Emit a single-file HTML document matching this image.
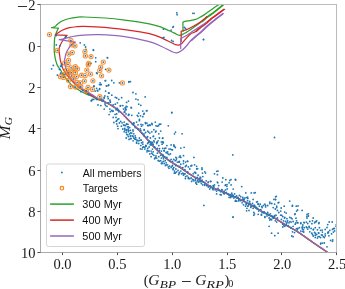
<!DOCTYPE html><html><head><meta charset="utf-8"><style>html,body{margin:0;padding:0;background:#fff;overflow:hidden}svg{display:block}</style></head><body><svg width="345" height="289" viewBox="0 0 345 289" style="will-change:transform"><defs><clipPath id="ax"><rect x="40.5" y="4.5" width="296.4" height="248"/></clipPath></defs><rect width="345" height="289" fill="#fff"/><g clip-path="url(#ax)"><g fill="none" stroke-width="1.25" stroke-linejoin="round" stroke-linecap="round"><path d="M330.00,254.75 C329.67,254.47 328.67,253.58 328.00,253.04 C327.33,252.50 326.67,252.00 326.00,251.51 C325.33,251.02 324.67,250.56 324.00,250.10 C323.33,249.64 322.67,249.20 322.00,248.76 C321.33,248.31 320.67,247.88 320.00,247.43 C319.33,246.99 318.67,246.55 318.00,246.10 C317.33,245.65 316.67,245.20 316.00,244.74 C315.33,244.29 314.67,243.83 314.00,243.36 C313.33,242.90 312.67,242.44 312.00,241.97 C311.33,241.50 310.67,241.03 310.00,240.56 C309.33,240.09 308.67,239.62 308.00,239.14 C307.33,238.67 306.67,238.20 306.00,237.73 C305.33,237.25 304.67,236.78 304.00,236.31 C303.33,235.84 302.67,235.38 302.00,234.91 C301.33,234.45 300.67,233.99 300.00,233.54 C299.33,233.09 298.67,232.64 298.00,232.21 C297.33,231.78 296.67,231.36 296.00,230.95 C295.33,230.54 294.67,230.15 294.00,229.77 C293.33,229.38 292.67,229.01 292.00,228.63 C291.33,228.26 290.67,227.89 290.00,227.52 C289.33,227.15 288.67,226.77 288.00,226.39 C287.33,226.01 286.67,225.62 286.00,225.23 C285.33,224.84 284.67,224.44 284.00,224.04 C283.33,223.64 282.67,223.23 282.00,222.82 C281.33,222.41 280.67,222.00 280.00,221.58 C279.33,221.17 278.67,220.75 278.00,220.34 C277.33,219.92 276.67,219.51 276.00,219.11 C275.33,218.71 274.67,218.31 274.00,217.92 C273.33,217.54 272.67,217.16 272.00,216.79 C271.33,216.43 270.67,216.07 270.00,215.73 C269.33,215.38 268.67,215.04 268.00,214.71 C267.33,214.37 266.67,214.05 266.00,213.71 C265.33,213.38 264.67,213.05 264.00,212.71 C263.33,212.37 262.67,212.02 262.00,211.66 C261.33,211.31 260.67,210.94 260.00,210.57 C259.33,210.19 258.67,209.80 258.00,209.41 C257.33,209.01 256.67,208.61 256.00,208.20 C255.33,207.80 254.67,207.39 254.00,206.99 C253.33,206.59 252.67,206.19 252.00,205.80 C251.33,205.41 250.67,205.03 250.00,204.66 C249.33,204.29 248.67,203.93 248.00,203.58 C247.33,203.22 246.67,202.87 246.00,202.53 C245.33,202.18 244.67,201.83 244.00,201.49 C243.33,201.14 242.67,200.80 242.00,200.46 C241.33,200.12 240.67,199.79 240.00,199.47 C239.33,199.15 238.67,198.84 238.00,198.54 C237.33,198.23 236.67,197.95 236.00,197.66 C235.33,197.37 234.67,197.09 234.00,196.80 C233.33,196.52 232.67,196.23 232.00,195.94 C231.33,195.65 230.67,195.36 230.00,195.06 C229.33,194.76 228.67,194.46 228.00,194.16 C227.33,193.85 226.67,193.55 226.00,193.26 C225.33,192.96 224.67,192.67 224.00,192.39 C223.33,192.10 222.67,191.82 222.00,191.55 C221.33,191.28 220.67,191.01 220.00,190.75 C219.33,190.49 218.67,190.24 218.00,189.99 C217.33,189.74 216.67,189.50 216.00,189.25 C215.33,189.00 214.67,188.76 214.00,188.49 C213.33,188.22 212.67,187.94 212.00,187.62 C211.33,187.30 210.67,186.96 210.00,186.58 C209.33,186.19 208.67,185.76 208.00,185.32 C207.33,184.87 206.67,184.38 206.00,183.92 C205.33,183.47 204.67,183.00 204.00,182.58 C203.33,182.15 202.67,181.75 202.00,181.36 C201.33,180.97 200.67,180.60 200.00,180.23 C199.33,179.87 198.67,179.51 198.00,179.15 C197.33,178.78 196.67,178.42 196.00,178.04 C195.33,177.66 194.67,177.28 194.00,176.89 C193.33,176.50 192.67,176.10 192.00,175.69 C191.33,175.29 190.67,174.87 190.00,174.45 C189.33,174.02 188.67,173.59 188.00,173.14 C187.33,172.69 186.67,172.22 186.00,171.75 C185.33,171.28 184.67,170.79 184.00,170.32 C183.33,169.85 182.67,169.38 182.00,168.93 C181.33,168.47 180.67,168.02 180.00,167.59 C179.33,167.16 178.67,166.74 178.00,166.34 C177.33,165.93 176.67,165.54 176.00,165.14 C175.33,164.75 174.67,164.36 174.00,163.97 C173.33,163.57 172.67,163.17 172.00,162.75 C171.33,162.33 170.67,161.89 170.00,161.44 C169.33,160.98 168.67,160.51 168.00,160.01 C167.33,159.51 166.67,158.99 166.00,158.45 C165.33,157.91 164.67,157.34 164.00,156.76 C163.33,156.17 162.67,155.56 162.00,154.94 C161.33,154.32 160.67,153.68 160.00,153.04 C159.33,152.40 158.67,151.74 158.00,151.08 C157.33,150.42 156.67,149.75 156.00,149.08 C155.33,148.40 154.67,147.73 154.00,147.03 C153.33,146.34 152.67,145.63 152.00,144.91 C151.33,144.19 150.67,143.45 150.00,142.70 C149.33,141.95 148.67,141.18 148.00,140.41 C147.33,139.64 146.67,138.85 146.00,138.08 C145.33,137.31 144.67,136.53 144.00,135.77 C143.33,135.01 142.67,134.26 142.00,133.54 C141.33,132.81 140.67,132.10 140.00,131.41 C139.33,130.71 138.67,130.04 138.00,129.37 C137.33,128.71 136.67,128.07 136.00,127.43 C135.33,126.79 134.67,126.17 134.00,125.54 C133.33,124.91 132.67,124.30 132.00,123.66 C131.33,123.03 130.67,122.39 130.00,121.74 C129.33,121.09 128.67,120.42 128.00,119.75 C127.33,119.08 126.67,118.39 126.00,117.70 C125.33,117.02 124.67,116.32 124.00,115.64 C123.33,114.96 122.67,114.27 122.00,113.63 C121.33,112.98 120.67,112.35 120.00,111.76 C119.33,111.16 118.67,110.60 118.00,110.06 C117.33,109.53 116.67,109.03 116.00,108.55 C115.33,108.07 114.67,107.62 114.00,107.19 C113.33,106.75 112.67,106.35 112.00,105.95 C111.33,105.55 110.67,105.16 110.00,104.78 C109.33,104.41 108.67,104.04 108.00,103.68 C107.33,103.32 106.67,102.98 106.00,102.64 C105.33,102.31 104.67,101.99 104.00,101.69 C103.33,101.39 102.67,101.10 102.00,100.83 C101.33,100.55 100.67,100.23 100.00,100.04 C99.33,99.85 99.00,100.12 98.00,99.70 C97.00,99.28 95.33,98.22 94.00,97.50 C92.67,96.78 91.17,95.92 90.00,95.40 C88.83,94.88 88.53,95.08 87.00,94.40 C85.47,93.72 83.05,92.60 80.80,91.30 C78.55,90.00 75.58,88.25 73.50,86.60 C71.42,84.95 69.85,83.13 68.30,81.40 C66.75,79.67 65.50,78.10 64.20,76.20 C62.90,74.30 61.62,71.77 60.50,70.00 C59.38,68.23 58.30,67.20 57.50,65.60 C56.70,64.00 56.17,62.13 55.70,60.40 C55.23,58.67 54.95,56.93 54.70,55.20 C54.45,53.47 54.27,51.87 54.20,50.00 C54.13,48.13 54.20,46.08 54.30,44.00 C54.40,41.92 54.38,39.58 54.80,37.50 C55.22,35.42 56.20,33.05 56.80,31.50 C57.40,29.95 58.13,28.75 58.40,28.20 C57.25,28.12 52.65,27.78 51.50,27.70 C52.07,27.55 54.10,27.18 54.90,26.80 C55.70,26.42 55.68,26.00 56.30,25.40 C56.92,24.80 57.62,23.93 58.60,23.20 C59.58,22.47 60.38,21.78 62.20,21.00 C64.02,20.22 67.08,19.12 69.50,18.50 C71.92,17.88 74.28,17.55 76.70,17.30 C79.12,17.05 79.28,16.88 84.00,17.00 C88.72,17.12 98.23,17.48 105.00,18.00 C111.77,18.52 117.22,19.13 124.60,20.10 C131.98,21.07 143.13,22.60 149.30,23.80 C155.47,25.00 157.50,25.78 161.60,27.30 C165.70,28.82 170.95,31.57 173.90,32.90 C176.85,34.23 177.78,35.08 179.30,35.30 C180.82,35.52 181.88,34.65 183.00,34.20 C184.12,33.75 184.83,33.30 186.00,32.60 C187.17,31.90 188.33,31.13 190.00,30.00 C191.67,28.87 194.08,27.18 196.00,25.80 C197.92,24.42 199.62,23.20 201.50,21.70 C203.38,20.20 205.22,18.42 207.30,16.80 C209.38,15.18 211.47,13.97 214.00,12.00 C216.53,10.03 220.75,6.50 222.50,5.00 C224.25,3.50 224.17,3.33 224.50,3.00" stroke="#2ca02c"/><path d="M202.30,21.70 C203.27,20.88 206.02,18.42 208.10,16.80 C210.18,15.18 212.27,13.97 214.80,12.00 C217.33,10.03 221.55,6.50 223.30,5.00 C225.05,3.50 224.97,3.33 225.30,3.00" stroke="#2ca02c"/><path d="M183.00,31.50 C182.98,29.92 182.92,23.58 182.90,22.00 C183.42,21.87 184.82,21.43 186.00,21.20 C187.18,20.97 188.38,20.92 190.00,20.60 C191.62,20.28 194.20,19.77 195.70,19.30 C197.20,18.83 197.87,18.37 199.00,17.80 C200.13,17.23 201.12,16.78 202.50,15.90 C203.88,15.02 205.72,13.62 207.30,12.50 C208.88,11.38 210.18,10.45 212.00,9.20 C213.82,7.95 216.78,5.95 218.20,5.00 C219.62,4.05 220.12,3.75 220.50,3.50" stroke="#2ca02c"/><path d="M330.00,254.55 C329.67,254.27 328.67,253.38 328.00,252.84 C327.33,252.30 326.67,251.80 326.00,251.31 C325.33,250.82 324.67,250.36 324.00,249.90 C323.33,249.44 322.67,249.00 322.00,248.56 C321.33,248.11 320.67,247.68 320.00,247.23 C319.33,246.79 318.67,246.35 318.00,245.90 C317.33,245.45 316.67,245.00 316.00,244.54 C315.33,244.09 314.67,243.63 314.00,243.16 C313.33,242.70 312.67,242.24 312.00,241.77 C311.33,241.30 310.67,240.83 310.00,240.36 C309.33,239.89 308.67,239.42 308.00,238.94 C307.33,238.47 306.67,238.00 306.00,237.53 C305.33,237.05 304.67,236.58 304.00,236.11 C303.33,235.64 302.67,235.18 302.00,234.71 C301.33,234.25 300.67,233.79 300.00,233.34 C299.33,232.89 298.67,232.44 298.00,232.01 C297.33,231.58 296.67,231.16 296.00,230.75 C295.33,230.34 294.67,229.95 294.00,229.57 C293.33,229.18 292.67,228.81 292.00,228.43 C291.33,228.06 290.67,227.69 290.00,227.32 C289.33,226.95 288.67,226.57 288.00,226.19 C287.33,225.81 286.67,225.42 286.00,225.03 C285.33,224.64 284.67,224.24 284.00,223.84 C283.33,223.44 282.67,223.03 282.00,222.62 C281.33,222.21 280.67,221.80 280.00,221.38 C279.33,220.97 278.67,220.55 278.00,220.14 C277.33,219.72 276.67,219.31 276.00,218.91 C275.33,218.51 274.67,218.11 274.00,217.72 C273.33,217.34 272.67,216.96 272.00,216.59 C271.33,216.23 270.67,215.87 270.00,215.53 C269.33,215.18 268.67,214.84 268.00,214.51 C267.33,214.17 266.67,213.85 266.00,213.51 C265.33,213.18 264.67,212.85 264.00,212.51 C263.33,212.17 262.67,211.82 262.00,211.46 C261.33,211.11 260.67,210.74 260.00,210.37 C259.33,209.99 258.67,209.60 258.00,209.21 C257.33,208.81 256.67,208.41 256.00,208.00 C255.33,207.60 254.67,207.19 254.00,206.79 C253.33,206.39 252.67,205.99 252.00,205.60 C251.33,205.21 250.67,204.83 250.00,204.46 C249.33,204.09 248.67,203.73 248.00,203.38 C247.33,203.02 246.67,202.67 246.00,202.33 C245.33,201.98 244.67,201.63 244.00,201.29 C243.33,200.94 242.67,200.60 242.00,200.26 C241.33,199.92 240.67,199.59 240.00,199.27 C239.33,198.95 238.67,198.64 238.00,198.34 C237.33,198.03 236.67,197.75 236.00,197.46 C235.33,197.17 234.67,196.89 234.00,196.60 C233.33,196.32 232.67,196.03 232.00,195.74 C231.33,195.45 230.67,195.16 230.00,194.86 C229.33,194.56 228.67,194.26 228.00,193.96 C227.33,193.65 226.67,193.35 226.00,193.06 C225.33,192.76 224.67,192.47 224.00,192.19 C223.33,191.90 222.67,191.62 222.00,191.35 C221.33,191.08 220.67,190.81 220.00,190.55 C219.33,190.29 218.67,190.04 218.00,189.79 C217.33,189.54 216.67,189.30 216.00,189.05 C215.33,188.80 214.67,188.56 214.00,188.29 C213.33,188.02 212.67,187.74 212.00,187.42 C211.33,187.10 210.67,186.76 210.00,186.38 C209.33,185.99 208.67,185.56 208.00,185.12 C207.33,184.67 206.67,184.18 206.00,183.72 C205.33,183.27 204.67,182.80 204.00,182.38 C203.33,181.95 202.67,181.55 202.00,181.16 C201.33,180.77 200.67,180.40 200.00,180.03 C199.33,179.67 198.67,179.31 198.00,178.95 C197.33,178.58 196.67,178.22 196.00,177.84 C195.33,177.46 194.67,177.08 194.00,176.69 C193.33,176.30 192.67,175.90 192.00,175.49 C191.33,175.09 190.67,174.67 190.00,174.25 C189.33,173.82 188.67,173.39 188.00,172.94 C187.33,172.49 186.67,172.02 186.00,171.55 C185.33,171.08 184.67,170.59 184.00,170.12 C183.33,169.65 182.67,169.18 182.00,168.73 C181.33,168.27 180.67,167.82 180.00,167.39 C179.33,166.96 178.67,166.54 178.00,166.14 C177.33,165.73 176.67,165.34 176.00,164.94 C175.33,164.55 174.67,164.16 174.00,163.77 C173.33,163.37 172.67,162.97 172.00,162.55 C171.33,162.13 170.67,161.69 170.00,161.24 C169.33,160.78 168.67,160.31 168.00,159.81 C167.33,159.31 166.67,158.79 166.00,158.25 C165.33,157.71 164.67,157.14 164.00,156.56 C163.33,155.97 162.67,155.36 162.00,154.74 C161.33,154.12 160.67,153.48 160.00,152.84 C159.33,152.20 158.67,151.54 158.00,150.88 C157.33,150.22 156.67,149.55 156.00,148.88 C155.33,148.20 154.67,147.53 154.00,146.83 C153.33,146.14 152.67,145.43 152.00,144.71 C151.33,143.99 150.67,143.25 150.00,142.50 C149.33,141.75 148.67,140.98 148.00,140.21 C147.33,139.44 146.67,138.65 146.00,137.88 C145.33,137.11 144.67,136.33 144.00,135.57 C143.33,134.81 142.67,134.06 142.00,133.34 C141.33,132.61 140.67,131.90 140.00,131.21 C139.33,130.51 138.67,129.84 138.00,129.17 C137.33,128.51 136.67,127.87 136.00,127.23 C135.33,126.59 134.67,125.97 134.00,125.34 C133.33,124.71 132.67,124.10 132.00,123.46 C131.33,122.83 130.67,122.19 130.00,121.54 C129.33,120.89 128.67,120.22 128.00,119.55 C127.33,118.88 126.67,118.19 126.00,117.50 C125.33,116.82 124.67,116.12 124.00,115.44 C123.33,114.76 122.67,114.07 122.00,113.43 C121.33,112.78 120.67,112.15 120.00,111.56 C119.33,110.96 118.67,110.40 118.00,109.86 C117.33,109.33 116.67,108.83 116.00,108.35 C115.33,107.87 114.67,107.42 114.00,106.99 C113.33,106.55 112.67,106.15 112.00,105.75 C111.33,105.35 110.67,104.96 110.00,104.58 C109.33,104.21 108.67,103.84 108.00,103.48 C107.33,103.12 106.67,102.78 106.00,102.44 C105.33,102.11 104.67,101.79 104.00,101.49 C103.33,101.19 102.67,100.90 102.00,100.63 C101.33,100.35 100.67,100.08 100.00,99.84 C99.33,99.60 99.17,99.81 98.00,99.20 C96.83,98.59 94.67,97.17 93.00,96.20 C91.33,95.23 89.70,94.40 88.00,93.40 C86.30,92.40 84.70,91.50 82.80,90.20 C80.90,88.90 78.50,87.23 76.60,85.60 C74.70,83.97 72.95,82.13 71.40,80.40 C69.85,78.67 68.60,76.93 67.30,75.20 C66.00,73.47 64.50,71.60 63.60,70.00 C62.70,68.40 62.43,67.20 61.90,65.60 C61.37,64.00 60.78,62.13 60.40,60.40 C60.02,58.67 59.82,56.93 59.60,55.20 C59.38,53.47 59.12,51.37 59.10,50.00 C59.08,48.63 59.28,47.88 59.50,47.00 C59.72,46.12 59.73,45.95 60.40,44.70 C61.07,43.45 62.38,41.05 63.50,39.50 C64.62,37.95 66.50,36.08 67.10,35.40 C65.12,35.32 57.18,34.98 55.20,34.90 C55.77,34.50 57.43,33.27 58.60,32.50 C59.77,31.73 60.38,31.10 62.20,30.30 C64.02,29.50 67.08,28.30 69.50,27.70 C71.92,27.10 74.28,26.92 76.70,26.70 C79.12,26.48 79.28,26.28 84.00,26.40 C88.72,26.52 98.23,26.85 105.00,27.40 C111.77,27.95 117.22,28.65 124.60,29.70 C131.98,30.75 143.13,32.33 149.30,33.70 C155.47,35.07 157.50,36.18 161.60,37.90 C165.70,39.62 171.08,42.78 173.90,44.00 C176.72,45.22 177.15,45.33 178.50,45.20 C179.85,45.07 180.75,44.30 182.00,43.20 C183.25,42.10 184.67,40.07 186.00,38.60 C187.33,37.13 188.38,35.60 190.00,34.40 C191.62,33.20 194.03,32.53 195.70,31.40 C197.37,30.27 198.38,28.90 200.00,27.60 C201.62,26.30 203.73,24.97 205.40,23.60 C207.07,22.23 208.57,20.60 210.00,19.40 C211.43,18.20 211.70,18.08 214.00,16.40 C216.30,14.72 222.17,10.48 223.80,9.30" stroke="#d62728"/><path d="M196.50,31.40 C197.22,30.77 199.18,28.90 200.80,27.60 C202.42,26.30 204.53,24.97 206.20,23.60 C207.87,22.23 209.37,20.60 210.80,19.40 C212.23,18.20 212.50,18.08 214.80,16.40 C217.10,14.72 222.97,10.48 224.60,9.30" stroke="#d62728"/><path d="M181.20,41.60 C181.20,39.87 181.20,32.93 181.20,31.20 C182.00,30.98 183.90,30.77 186.00,29.90 C188.10,29.03 191.22,27.45 193.80,26.00 C196.38,24.55 199.30,22.77 201.50,21.20 C203.70,19.63 206.08,17.37 207.00,16.60" stroke="#d62728"/><path d="M330.00,254.35 C329.67,254.07 328.67,253.18 328.00,252.64 C327.33,252.10 326.67,251.60 326.00,251.11 C325.33,250.62 324.67,250.16 324.00,249.70 C323.33,249.24 322.67,248.80 322.00,248.36 C321.33,247.91 320.67,247.48 320.00,247.03 C319.33,246.59 318.67,246.15 318.00,245.70 C317.33,245.25 316.67,244.80 316.00,244.34 C315.33,243.89 314.67,243.43 314.00,242.96 C313.33,242.50 312.67,242.04 312.00,241.57 C311.33,241.10 310.67,240.63 310.00,240.16 C309.33,239.69 308.67,239.22 308.00,238.74 C307.33,238.27 306.67,237.80 306.00,237.33 C305.33,236.85 304.67,236.38 304.00,235.91 C303.33,235.44 302.67,234.98 302.00,234.51 C301.33,234.05 300.67,233.59 300.00,233.14 C299.33,232.69 298.67,232.24 298.00,231.81 C297.33,231.38 296.67,230.96 296.00,230.55 C295.33,230.14 294.67,229.75 294.00,229.37 C293.33,228.98 292.67,228.61 292.00,228.23 C291.33,227.86 290.67,227.49 290.00,227.12 C289.33,226.75 288.67,226.37 288.00,225.99 C287.33,225.61 286.67,225.22 286.00,224.83 C285.33,224.44 284.67,224.04 284.00,223.64 C283.33,223.24 282.67,222.83 282.00,222.42 C281.33,222.01 280.67,221.60 280.00,221.18 C279.33,220.77 278.67,220.35 278.00,219.94 C277.33,219.52 276.67,219.11 276.00,218.71 C275.33,218.31 274.67,217.91 274.00,217.52 C273.33,217.14 272.67,216.76 272.00,216.39 C271.33,216.03 270.67,215.67 270.00,215.33 C269.33,214.98 268.67,214.64 268.00,214.31 C267.33,213.97 266.67,213.65 266.00,213.31 C265.33,212.98 264.67,212.65 264.00,212.31 C263.33,211.97 262.67,211.62 262.00,211.26 C261.33,210.91 260.67,210.54 260.00,210.17 C259.33,209.79 258.67,209.40 258.00,209.01 C257.33,208.61 256.67,208.21 256.00,207.80 C255.33,207.40 254.67,206.99 254.00,206.59 C253.33,206.19 252.67,205.79 252.00,205.40 C251.33,205.01 250.67,204.63 250.00,204.26 C249.33,203.89 248.67,203.53 248.00,203.18 C247.33,202.82 246.67,202.47 246.00,202.13 C245.33,201.78 244.67,201.43 244.00,201.09 C243.33,200.74 242.67,200.40 242.00,200.06 C241.33,199.72 240.67,199.39 240.00,199.07 C239.33,198.75 238.67,198.44 238.00,198.14 C237.33,197.83 236.67,197.55 236.00,197.26 C235.33,196.97 234.67,196.69 234.00,196.40 C233.33,196.12 232.67,195.83 232.00,195.54 C231.33,195.25 230.67,194.96 230.00,194.66 C229.33,194.36 228.67,194.06 228.00,193.76 C227.33,193.45 226.67,193.15 226.00,192.86 C225.33,192.56 224.67,192.27 224.00,191.99 C223.33,191.70 222.67,191.42 222.00,191.15 C221.33,190.88 220.67,190.61 220.00,190.35 C219.33,190.09 218.67,189.84 218.00,189.59 C217.33,189.34 216.67,189.10 216.00,188.85 C215.33,188.60 214.67,188.36 214.00,188.09 C213.33,187.82 212.67,187.54 212.00,187.22 C211.33,186.90 210.67,186.56 210.00,186.18 C209.33,185.79 208.67,185.36 208.00,184.92 C207.33,184.47 206.67,183.98 206.00,183.52 C205.33,183.07 204.67,182.60 204.00,182.18 C203.33,181.75 202.67,181.35 202.00,180.96 C201.33,180.57 200.67,180.20 200.00,179.83 C199.33,179.47 198.67,179.11 198.00,178.75 C197.33,178.38 196.67,178.02 196.00,177.64 C195.33,177.26 194.67,176.88 194.00,176.49 C193.33,176.10 192.67,175.70 192.00,175.29 C191.33,174.89 190.67,174.47 190.00,174.05 C189.33,173.62 188.67,173.19 188.00,172.74 C187.33,172.29 186.67,171.82 186.00,171.35 C185.33,170.88 184.67,170.39 184.00,169.92 C183.33,169.45 182.67,168.98 182.00,168.53 C181.33,168.07 180.67,167.62 180.00,167.19 C179.33,166.76 178.67,166.34 178.00,165.94 C177.33,165.53 176.67,165.14 176.00,164.74 C175.33,164.35 174.67,163.96 174.00,163.57 C173.33,163.17 172.67,162.77 172.00,162.35 C171.33,161.93 170.67,161.49 170.00,161.04 C169.33,160.58 168.67,160.11 168.00,159.61 C167.33,159.11 166.67,158.59 166.00,158.05 C165.33,157.51 164.67,156.94 164.00,156.36 C163.33,155.77 162.67,155.16 162.00,154.54 C161.33,153.92 160.67,153.28 160.00,152.64 C159.33,152.00 158.67,151.34 158.00,150.68 C157.33,150.02 156.67,149.35 156.00,148.68 C155.33,148.00 154.67,147.33 154.00,146.63 C153.33,145.94 152.67,145.23 152.00,144.51 C151.33,143.79 150.67,143.05 150.00,142.30 C149.33,141.55 148.67,140.78 148.00,140.01 C147.33,139.24 146.67,138.45 146.00,137.68 C145.33,136.91 144.67,136.13 144.00,135.37 C143.33,134.61 142.67,133.86 142.00,133.14 C141.33,132.41 140.67,131.70 140.00,131.01 C139.33,130.31 138.67,129.64 138.00,128.97 C137.33,128.31 136.67,127.67 136.00,127.03 C135.33,126.39 134.67,125.77 134.00,125.14 C133.33,124.51 132.67,123.90 132.00,123.26 C131.33,122.63 130.67,121.99 130.00,121.34 C129.33,120.69 128.67,120.02 128.00,119.35 C127.33,118.68 126.67,117.99 126.00,117.30 C125.33,116.62 124.67,115.92 124.00,115.24 C123.33,114.56 122.67,113.87 122.00,113.23 C121.33,112.58 120.67,111.95 120.00,111.36 C119.33,110.76 118.67,110.20 118.00,109.66 C117.33,109.13 116.67,108.63 116.00,108.15 C115.33,107.67 114.67,107.22 114.00,106.79 C113.33,106.35 112.67,105.95 112.00,105.55 C111.33,105.15 110.67,104.76 110.00,104.38 C109.33,104.01 108.67,103.64 108.00,103.28 C107.33,102.92 106.67,102.58 106.00,102.24 C105.33,101.91 104.67,101.59 104.00,101.29 C103.33,100.99 102.67,100.70 102.00,100.43 C101.33,100.15 100.67,99.93 100.00,99.64 C99.33,99.35 99.33,99.54 98.00,98.70 C96.67,97.86 93.83,95.83 92.00,94.60 C90.17,93.37 88.35,92.12 87.00,91.30 C85.65,90.48 85.23,90.50 83.90,89.70 C82.57,88.90 80.65,87.78 79.00,86.50 C77.35,85.22 75.58,83.75 74.00,82.00 C72.42,80.25 70.75,78.00 69.50,76.00 C68.25,74.00 67.23,71.73 66.50,70.00 C65.77,68.27 65.43,67.03 65.10,65.60 C64.77,64.17 64.50,62.78 64.50,61.40 C64.50,60.02 64.83,58.68 65.10,57.30 C65.37,55.92 65.67,54.32 66.10,53.10 C66.53,51.88 66.92,51.32 67.70,50.00 C68.48,48.68 69.52,46.52 70.80,45.20 C72.08,43.88 74.63,42.62 75.40,42.10 C72.72,41.70 61.98,40.10 59.30,39.70 C60.17,39.52 62.58,39.07 64.50,38.60 C66.42,38.13 68.22,37.45 70.80,36.90 C73.38,36.35 75.13,35.67 80.00,35.30 C84.87,34.93 92.57,34.48 100.00,34.70 C107.43,34.92 116.38,35.45 124.60,36.60 C132.82,37.75 143.13,39.95 149.30,41.60 C155.47,43.25 157.92,44.87 161.60,46.50 C165.28,48.13 168.93,50.35 171.40,51.40 C173.87,52.45 174.80,52.87 176.40,52.80 C178.00,52.73 179.40,52.05 181.00,51.00 C182.60,49.95 184.37,48.25 186.00,46.50 C187.63,44.75 189.22,42.22 190.80,40.50 C192.38,38.78 193.88,37.57 195.50,36.20 C197.12,34.83 198.58,34.00 200.50,32.30 C202.42,30.60 204.75,28.02 207.00,26.00 C209.25,23.98 211.42,22.25 214.00,20.20 C216.58,18.15 221.08,14.78 222.50,13.70" stroke="#9467bd"/><path d="M191.60,40.50 C192.38,39.78 194.68,37.57 196.30,36.20 C197.92,34.83 199.38,34.00 201.30,32.30 C203.22,30.60 205.55,28.02 207.80,26.00 C210.05,23.98 212.22,22.25 214.80,20.20 C217.38,18.15 221.88,14.78 223.30,13.70" stroke="#9467bd"/><path d="M180.70,48.50 C180.70,46.83 180.70,40.17 180.70,38.50 C181.58,38.03 183.82,37.02 186.00,35.70 C188.18,34.38 191.22,32.28 193.80,30.60 C196.38,28.92 199.47,26.95 201.50,25.60 C203.53,24.25 205.25,23.02 206.00,22.50" stroke="#9467bd"/></g><g fill="#1f77b4"><circle cx="49.5" cy="34.6" r="0.9"/><circle cx="57.3" cy="50.4" r="0.9"/><circle cx="70.9" cy="40.3" r="0.9"/><circle cx="71.8" cy="44.8" r="0.9"/><circle cx="75.0" cy="45.8" r="0.9"/><circle cx="72.3" cy="52.6" r="0.9"/><circle cx="68.9" cy="54.1" r="0.9"/><circle cx="68.5" cy="60.4" r="0.9"/><circle cx="64.8" cy="62.9" r="0.9"/><circle cx="68.0" cy="64.4" r="0.9"/><circle cx="84.9" cy="51.6" r="0.9"/><circle cx="85.4" cy="55.9" r="0.9"/><circle cx="91.0" cy="56.5" r="0.9"/><circle cx="103.3" cy="62.1" r="0.9"/><circle cx="88.2" cy="64.7" r="0.9"/><circle cx="100.7" cy="67.1" r="0.9"/><circle cx="99.8" cy="70.4" r="0.9"/><circle cx="108.9" cy="70.1" r="0.9"/><circle cx="71.1" cy="67.8" r="0.9"/><circle cx="75.3" cy="66.7" r="0.9"/><circle cx="77.5" cy="68.8" r="0.9"/><circle cx="66.5" cy="70.0" r="0.9"/><circle cx="74.0" cy="70.1" r="0.9"/><circle cx="68.6" cy="72.7" r="0.9"/><circle cx="71.4" cy="72.6" r="0.9"/><circle cx="75.4" cy="72.7" r="0.9"/><circle cx="81.6" cy="75.2" r="0.9"/><circle cx="71.8" cy="75.9" r="0.9"/><circle cx="76.5" cy="76.6" r="0.9"/><circle cx="60.4" cy="76.7" r="0.9"/><circle cx="63.5" cy="77.4" r="0.9"/><circle cx="73.8" cy="79.0" r="0.9"/><circle cx="86.8" cy="70.1" r="0.9"/><circle cx="90.5" cy="74.1" r="0.9"/><circle cx="101.6" cy="75.8" r="0.9"/><circle cx="92.9" cy="80.8" r="0.9"/><circle cx="122.4" cy="82.9" r="0.9"/><circle cx="68.4" cy="80.3" r="0.9"/><circle cx="77.2" cy="82.4" r="0.9"/><circle cx="80.3" cy="82.9" r="0.9"/><circle cx="70.5" cy="86.5" r="0.9"/><circle cx="75.4" cy="87.1" r="0.9"/><circle cx="85.2" cy="75.6" r="0.9"/><circle cx="84.4" cy="81.1" r="0.9"/><circle cx="88.0" cy="87.4" r="0.9"/><circle cx="92.5" cy="89.4" r="0.9"/><circle cx="99.8" cy="96.7" r="0.9"/><circle cx="65.0" cy="74.2" r="0.9"/><circle cx="80.8" cy="86.7" r="0.9"/><circle cx="86.4" cy="90.6" r="0.9"/><circle cx="88.7" cy="63.3" r="0.9"/><circle cx="56.3" cy="35.5" r="0.9"/><circle cx="65.6" cy="36.6" r="0.9"/><circle cx="56.3" cy="44.9" r="0.9"/><circle cx="59.8" cy="46.0" r="0.9"/><circle cx="80.2" cy="42.8" r="0.9"/><circle cx="84.4" cy="44.9" r="0.9"/><circle cx="85.6" cy="47.0" r="0.9"/><circle cx="86.0" cy="49.5" r="0.9"/><circle cx="93.4" cy="49.9" r="0.9"/><circle cx="65.7" cy="36.9" r="0.9"/><circle cx="95.7" cy="57.8" r="0.9"/><circle cx="95.7" cy="61.7" r="0.9"/><circle cx="107.5" cy="57.9" r="0.9"/><circle cx="53.3" cy="65.4" r="0.9"/><circle cx="51.6" cy="68.8" r="0.9"/><circle cx="59.5" cy="69.3" r="0.9"/><circle cx="57.4" cy="75.2" r="0.9"/><circle cx="60.8" cy="73.7" r="0.9"/><circle cx="62.3" cy="64.3" r="0.9"/><circle cx="61.3" cy="66.4" r="0.9"/><circle cx="61.9" cy="64.1" r="0.9"/><circle cx="60.6" cy="66.2" r="0.9"/><circle cx="59.7" cy="69.3" r="0.9"/><circle cx="60.6" cy="73.2" r="0.9"/><circle cx="93.4" cy="50.3" r="0.9"/><circle cx="91.0" cy="63.4" r="0.9"/><circle cx="96.6" cy="72.9" r="0.9"/><circle cx="107.4" cy="57.6" r="0.9"/><circle cx="105.6" cy="69.3" r="0.9"/><circle cx="97.1" cy="73.5" r="0.9"/><circle cx="79.3" cy="88.1" r="0.9"/><circle cx="80.8" cy="91.7" r="0.9"/><circle cx="61.5" cy="64.8" r="0.9"/><circle cx="63.5" cy="74.5" r="0.9"/><circle cx="100.1" cy="82.8" r="0.9"/><circle cx="100.8" cy="84.8" r="0.9"/><circle cx="105.6" cy="80.7" r="0.9"/><circle cx="106.3" cy="85.8" r="0.9"/><circle cx="108.4" cy="85.5" r="0.9"/><circle cx="113.9" cy="82.8" r="0.9"/><circle cx="119.4" cy="82.8" r="0.9"/><circle cx="93.8" cy="86.2" r="0.9"/><circle cx="96.6" cy="88.3" r="0.9"/><circle cx="97.3" cy="90.4" r="0.9"/><circle cx="99.4" cy="89.4" r="0.9"/><circle cx="95.2" cy="91.1" r="0.9"/><circle cx="105.6" cy="91.1" r="0.9"/><circle cx="109.1" cy="93.1" r="0.9"/><circle cx="107.7" cy="96.6" r="0.9"/><circle cx="104.9" cy="95.9" r="0.9"/><circle cx="104.2" cy="98.0" r="0.9"/><circle cx="111.8" cy="95.2" r="0.9"/><circle cx="116.7" cy="98.0" r="0.9"/><circle cx="118.8" cy="99.4" r="0.9"/><circle cx="117.4" cy="102.8" r="0.9"/><circle cx="91.1" cy="100.8" r="0.9"/><circle cx="96.6" cy="99.4" r="0.9"/><circle cx="100.1" cy="98.7" r="0.9"/><circle cx="102.1" cy="100.8" r="0.9"/><circle cx="98.0" cy="104.9" r="0.9"/><circle cx="100.8" cy="105.6" r="0.9"/><circle cx="105.6" cy="105.6" r="0.9"/><circle cx="107.0" cy="106.3" r="0.9"/><circle cx="108.4" cy="102.8" r="0.9"/><circle cx="110.4" cy="102.1" r="0.9"/><circle cx="113.2" cy="104.9" r="0.9"/><circle cx="115.3" cy="104.2" r="0.9"/><circle cx="109.8" cy="109.1" r="0.9"/><circle cx="104.2" cy="109.1" r="0.9"/><circle cx="111.8" cy="110.4" r="0.9"/><circle cx="113.2" cy="111.1" r="0.9"/><circle cx="116.0" cy="109.8" r="0.9"/><circle cx="117.4" cy="108.4" r="0.9"/><circle cx="118.8" cy="111.8" r="0.9"/><circle cx="116.7" cy="113.9" r="0.9"/><circle cx="109.1" cy="114.6" r="0.9"/><circle cx="113.2" cy="117.4" r="0.9"/><circle cx="116.0" cy="117.4" r="0.9"/><circle cx="118.8" cy="118.8" r="0.9"/><circle cx="82.8" cy="90.4" r="0.9"/><circle cx="86.2" cy="91.1" r="0.9"/><circle cx="88.3" cy="93.8" r="0.9"/><circle cx="93.8" cy="99.4" r="0.9"/><circle cx="129.0" cy="81.7" r="0.9"/><circle cx="135.9" cy="93.8" r="0.9"/><circle cx="145.2" cy="96.9" r="0.9"/><circle cx="121.7" cy="97.7" r="0.9"/><circle cx="135.9" cy="99.1" r="0.9"/><circle cx="138.0" cy="99.8" r="0.9"/><circle cx="126.6" cy="102.4" r="0.9"/><circle cx="138.7" cy="104.2" r="0.9"/><circle cx="140.8" cy="105.3" r="0.9"/><circle cx="120.7" cy="105.6" r="0.9"/><circle cx="122.8" cy="105.6" r="0.9"/><circle cx="126.2" cy="106.3" r="0.9"/><circle cx="125.5" cy="107.7" r="0.9"/><circle cx="131.1" cy="107.4" r="0.9"/><circle cx="123.5" cy="109.1" r="0.9"/><circle cx="125.5" cy="109.8" r="0.9"/><circle cx="124.8" cy="111.1" r="0.9"/><circle cx="124.2" cy="112.1" r="0.9"/><circle cx="142.8" cy="111.1" r="0.9"/><circle cx="147.0" cy="110.7" r="0.9"/><circle cx="144.2" cy="113.5" r="0.9"/><circle cx="138.7" cy="113.2" r="0.9"/><circle cx="137.3" cy="115.3" r="0.9"/><circle cx="138.0" cy="116.3" r="0.9"/><circle cx="129.0" cy="114.6" r="0.9"/><circle cx="128.3" cy="115.3" r="0.9"/><circle cx="131.8" cy="115.3" r="0.9"/><circle cx="142.8" cy="116.7" r="0.9"/><circle cx="139.4" cy="119.4" r="0.9"/><circle cx="116.7" cy="120.7" r="0.9"/><circle cx="113.9" cy="122.5" r="0.9"/><circle cx="116.7" cy="123.9" r="0.9"/><circle cx="119.4" cy="123.0" r="0.9"/><circle cx="117.6" cy="126.2" r="0.9"/><circle cx="120.7" cy="121.4" r="0.9"/><circle cx="122.1" cy="122.8" r="0.9"/><circle cx="124.2" cy="122.1" r="0.9"/><circle cx="123.5" cy="124.8" r="0.9"/><circle cx="121.4" cy="126.2" r="0.9"/><circle cx="125.5" cy="125.5" r="0.9"/><circle cx="126.9" cy="124.2" r="0.9"/><circle cx="127.6" cy="126.9" r="0.9"/><circle cx="124.8" cy="128.3" r="0.9"/><circle cx="122.8" cy="129.0" r="0.9"/><circle cx="126.2" cy="129.7" r="0.9"/><circle cx="128.3" cy="129.0" r="0.9"/><circle cx="129.7" cy="127.6" r="0.9"/><circle cx="130.4" cy="130.4" r="0.9"/><circle cx="128.3" cy="131.8" r="0.9"/><circle cx="126.2" cy="132.5" r="0.9"/><circle cx="124.2" cy="131.8" r="0.9"/><circle cx="126.9" cy="134.5" r="0.9"/><circle cx="129.7" cy="133.8" r="0.9"/><circle cx="131.8" cy="133.1" r="0.9"/><circle cx="133.1" cy="131.1" r="0.9"/><circle cx="133.8" cy="133.8" r="0.9"/><circle cx="132.5" cy="135.9" r="0.9"/><circle cx="130.4" cy="135.9" r="0.9"/><circle cx="128.3" cy="136.6" r="0.9"/><circle cx="126.2" cy="138.0" r="0.9"/><circle cx="129.0" cy="139.4" r="0.9"/><circle cx="131.1" cy="138.7" r="0.9"/><circle cx="133.8" cy="138.0" r="0.9"/><circle cx="135.2" cy="135.9" r="0.9"/><circle cx="135.9" cy="139.4" r="0.9"/><circle cx="133.1" cy="140.8" r="0.9"/><circle cx="136.6" cy="142.1" r="0.9"/><circle cx="138.0" cy="140.8" r="0.9"/><circle cx="139.4" cy="138.0" r="0.9"/><circle cx="140.8" cy="140.1" r="0.9"/><circle cx="138.7" cy="143.5" r="0.9"/><circle cx="141.5" cy="142.8" r="0.9"/><circle cx="142.8" cy="144.2" r="0.9"/><circle cx="140.8" cy="145.6" r="0.9"/><circle cx="143.5" cy="147.0" r="0.9"/><circle cx="145.6" cy="146.3" r="0.9"/><circle cx="144.9" cy="149.1" r="0.9"/><circle cx="142.1" cy="149.1" r="0.9"/><circle cx="147.7" cy="148.4" r="0.9"/><circle cx="149.1" cy="151.1" r="0.9"/><circle cx="147.0" cy="151.8" r="0.9"/><circle cx="149.8" cy="153.9" r="0.9"/><circle cx="151.8" cy="153.2" r="0.9"/><circle cx="153.2" cy="151.8" r="0.9"/><circle cx="153.9" cy="155.3" r="0.9"/><circle cx="151.1" cy="156.7" r="0.9"/><circle cx="156.0" cy="156.0" r="0.9"/><circle cx="156.7" cy="158.1" r="0.9"/><circle cx="154.6" cy="158.8" r="0.9"/><circle cx="157.4" cy="153.2" r="0.9"/><circle cx="158.8" cy="156.7" r="0.9"/><circle cx="152.5" cy="149.1" r="0.9"/><circle cx="149.1" cy="147.0" r="0.9"/><circle cx="151.1" cy="151.1" r="0.9"/><circle cx="132.5" cy="124.2" r="0.9"/><circle cx="133.8" cy="122.8" r="0.9"/><circle cx="136.6" cy="122.1" r="0.9"/><circle cx="139.4" cy="120.7" r="0.9"/><circle cx="138.0" cy="124.8" r="0.9"/><circle cx="141.5" cy="126.2" r="0.9"/><circle cx="142.8" cy="124.8" r="0.9"/><circle cx="145.6" cy="123.5" r="0.9"/><circle cx="147.7" cy="125.5" r="0.9"/><circle cx="149.8" cy="124.8" r="0.9"/><circle cx="151.8" cy="123.5" r="0.9"/><circle cx="155.3" cy="122.1" r="0.9"/><circle cx="157.4" cy="126.2" r="0.9"/><circle cx="159.4" cy="124.2" r="0.9"/><circle cx="135.2" cy="127.6" r="0.9"/><circle cx="138.0" cy="129.0" r="0.9"/><circle cx="140.8" cy="130.4" r="0.9"/><circle cx="144.2" cy="129.7" r="0.9"/><circle cx="145.6" cy="132.5" r="0.9"/><circle cx="147.7" cy="131.1" r="0.9"/><circle cx="149.8" cy="133.1" r="0.9"/><circle cx="151.8" cy="131.8" r="0.9"/><circle cx="153.9" cy="129.7" r="0.9"/><circle cx="156.0" cy="131.1" r="0.9"/><circle cx="158.8" cy="133.8" r="0.9"/><circle cx="142.1" cy="133.1" r="0.9"/><circle cx="144.2" cy="135.9" r="0.9"/><circle cx="147.7" cy="136.6" r="0.9"/><circle cx="150.4" cy="138.0" r="0.9"/><circle cx="153.2" cy="136.6" r="0.9"/><circle cx="155.3" cy="138.7" r="0.9"/><circle cx="158.1" cy="140.8" r="0.9"/><circle cx="159.4" cy="138.0" r="0.9"/><circle cx="149.1" cy="140.8" r="0.9"/><circle cx="151.8" cy="142.1" r="0.9"/><circle cx="153.9" cy="140.8" r="0.9"/><circle cx="156.7" cy="143.5" r="0.9"/><circle cx="158.8" cy="145.6" r="0.9"/><circle cx="154.6" cy="147.0" r="0.9"/><circle cx="157.4" cy="148.4" r="0.9"/><circle cx="159.4" cy="150.4" r="0.9"/><circle cx="153.2" cy="144.2" r="0.9"/><circle cx="151.1" cy="144.9" r="0.9"/><circle cx="147.7" cy="143.5" r="0.9"/><circle cx="160.7" cy="124.2" r="0.9"/><circle cx="168.3" cy="125.8" r="0.9"/><circle cx="160.7" cy="131.1" r="0.9"/><circle cx="174.5" cy="133.8" r="0.9"/><circle cx="182.1" cy="133.8" r="0.9"/><circle cx="162.8" cy="138.0" r="0.9"/><circle cx="161.4" cy="141.9" r="0.9"/><circle cx="162.8" cy="141.9" r="0.9"/><circle cx="162.1" cy="144.2" r="0.9"/><circle cx="166.9" cy="145.6" r="0.9"/><circle cx="171.1" cy="144.9" r="0.9"/><circle cx="173.8" cy="144.9" r="0.9"/><circle cx="174.5" cy="146.3" r="0.9"/><circle cx="180.8" cy="148.1" r="0.9"/><circle cx="162.8" cy="148.4" r="0.9"/><circle cx="164.8" cy="148.4" r="0.9"/><circle cx="169.0" cy="149.1" r="0.9"/><circle cx="172.5" cy="149.8" r="0.9"/><circle cx="161.4" cy="151.1" r="0.9"/><circle cx="164.2" cy="150.4" r="0.9"/><circle cx="166.2" cy="152.5" r="0.9"/><circle cx="167.6" cy="151.8" r="0.9"/><circle cx="170.4" cy="153.9" r="0.9"/><circle cx="169.0" cy="154.6" r="0.9"/><circle cx="160.7" cy="155.3" r="0.9"/><circle cx="162.8" cy="154.6" r="0.9"/><circle cx="164.8" cy="156.7" r="0.9"/><circle cx="166.9" cy="157.4" r="0.9"/><circle cx="163.5" cy="158.8" r="0.9"/><circle cx="161.4" cy="158.1" r="0.9"/><circle cx="175.9" cy="157.4" r="0.9"/><circle cx="176.6" cy="158.1" r="0.9"/><circle cx="180.1" cy="156.0" r="0.9"/><circle cx="180.8" cy="157.4" r="0.9"/><circle cx="183.5" cy="155.7" r="0.9"/><circle cx="193.9" cy="157.4" r="0.9"/><circle cx="171.1" cy="159.4" r="0.9"/><circle cx="173.8" cy="159.4" r="0.9"/><circle cx="160.7" cy="160.7" r="0.9"/><circle cx="162.1" cy="162.1" r="0.9"/><circle cx="163.5" cy="161.4" r="0.9"/><circle cx="161.4" cy="163.5" r="0.9"/><circle cx="164.2" cy="163.5" r="0.9"/><circle cx="166.2" cy="162.8" r="0.9"/><circle cx="165.5" cy="165.5" r="0.9"/><circle cx="167.6" cy="164.8" r="0.9"/><circle cx="168.3" cy="166.9" r="0.9"/><circle cx="169.7" cy="166.2" r="0.9"/><circle cx="169.0" cy="168.3" r="0.9"/><circle cx="171.1" cy="167.6" r="0.9"/><circle cx="172.5" cy="165.5" r="0.9"/><circle cx="173.8" cy="167.6" r="0.9"/><circle cx="173.1" cy="169.7" r="0.9"/><circle cx="174.5" cy="171.1" r="0.9"/><circle cx="175.9" cy="169.0" r="0.9"/><circle cx="176.6" cy="171.8" r="0.9"/><circle cx="178.0" cy="170.4" r="0.9"/><circle cx="179.4" cy="172.5" r="0.9"/><circle cx="180.8" cy="171.1" r="0.9"/><circle cx="181.5" cy="173.8" r="0.9"/><circle cx="182.8" cy="173.1" r="0.9"/><circle cx="183.5" cy="175.2" r="0.9"/><circle cx="184.9" cy="173.8" r="0.9"/><circle cx="185.6" cy="176.6" r="0.9"/><circle cx="187.0" cy="175.9" r="0.9"/><circle cx="188.4" cy="177.3" r="0.9"/><circle cx="189.8" cy="178.7" r="0.9"/><circle cx="191.1" cy="178.0" r="0.9"/><circle cx="192.5" cy="179.4" r="0.9"/><circle cx="193.9" cy="180.8" r="0.9"/><circle cx="195.3" cy="180.1" r="0.9"/><circle cx="196.0" cy="182.1" r="0.9"/><circle cx="197.4" cy="180.8" r="0.9"/><circle cx="198.8" cy="182.1" r="0.9"/><circle cx="196.7" cy="184.2" r="0.9"/><circle cx="175.2" cy="173.1" r="0.9"/><circle cx="178.7" cy="174.5" r="0.9"/><circle cx="169.7" cy="160.7" r="0.9"/><circle cx="172.5" cy="161.4" r="0.9"/><circle cx="175.2" cy="160.7" r="0.9"/><circle cx="177.3" cy="162.1" r="0.9"/><circle cx="179.4" cy="161.4" r="0.9"/><circle cx="180.8" cy="164.2" r="0.9"/><circle cx="183.5" cy="163.5" r="0.9"/><circle cx="185.6" cy="162.1" r="0.9"/><circle cx="187.7" cy="161.4" r="0.9"/><circle cx="186.3" cy="165.5" r="0.9"/><circle cx="188.4" cy="166.9" r="0.9"/><circle cx="189.8" cy="169.0" r="0.9"/><circle cx="191.8" cy="165.5" r="0.9"/><circle cx="194.6" cy="164.8" r="0.9"/><circle cx="196.7" cy="169.0" r="0.9"/><circle cx="195.3" cy="172.5" r="0.9"/><circle cx="193.2" cy="173.8" r="0.9"/><circle cx="198.1" cy="175.2" r="0.9"/><circle cx="197.4" cy="177.3" r="0.9"/><circle cx="199.4" cy="178.7" r="0.9"/><circle cx="187.7" cy="171.8" r="0.9"/><circle cx="184.9" cy="169.7" r="0.9"/><circle cx="182.8" cy="167.6" r="0.9"/><circle cx="202.1" cy="169.4" r="0.9"/><circle cx="204.8" cy="171.8" r="0.9"/><circle cx="205.5" cy="173.1" r="0.9"/><circle cx="214.5" cy="173.8" r="0.9"/><circle cx="218.0" cy="171.1" r="0.9"/><circle cx="202.8" cy="176.6" r="0.9"/><circle cx="200.7" cy="178.0" r="0.9"/><circle cx="222.8" cy="178.0" r="0.9"/><circle cx="235.3" cy="179.4" r="0.9"/><circle cx="229.8" cy="180.5" r="0.9"/><circle cx="222.1" cy="182.1" r="0.9"/><circle cx="217.3" cy="182.1" r="0.9"/><circle cx="225.6" cy="184.9" r="0.9"/><circle cx="227.0" cy="184.6" r="0.9"/><circle cx="231.1" cy="184.9" r="0.9"/><circle cx="218.7" cy="185.6" r="0.9"/><circle cx="214.5" cy="184.9" r="0.9"/><circle cx="208.3" cy="182.1" r="0.9"/><circle cx="210.4" cy="181.5" r="0.9"/><circle cx="206.2" cy="180.8" r="0.9"/><circle cx="229.1" cy="182.8" r="0.9"/><circle cx="233.2" cy="189.1" r="0.9"/><circle cx="200.7" cy="180.8" r="0.9"/><circle cx="202.1" cy="180.1" r="0.9"/><circle cx="203.5" cy="182.1" r="0.9"/><circle cx="201.4" cy="183.5" r="0.9"/><circle cx="202.8" cy="184.9" r="0.9"/><circle cx="204.8" cy="184.2" r="0.9"/><circle cx="206.9" cy="185.6" r="0.9"/><circle cx="208.3" cy="187.0" r="0.9"/><circle cx="210.4" cy="187.7" r="0.9"/><circle cx="209.7" cy="189.1" r="0.9"/><circle cx="212.5" cy="188.4" r="0.9"/><circle cx="213.1" cy="189.8" r="0.9"/><circle cx="215.2" cy="189.8" r="0.9"/><circle cx="216.6" cy="191.1" r="0.9"/><circle cx="218.0" cy="188.4" r="0.9"/><circle cx="219.4" cy="190.4" r="0.9"/><circle cx="220.8" cy="191.8" r="0.9"/><circle cx="222.1" cy="189.8" r="0.9"/><circle cx="224.2" cy="191.1" r="0.9"/><circle cx="225.6" cy="189.8" r="0.9"/><circle cx="223.5" cy="193.2" r="0.9"/><circle cx="226.3" cy="192.5" r="0.9"/><circle cx="227.7" cy="193.9" r="0.9"/><circle cx="229.1" cy="195.3" r="0.9"/><circle cx="230.4" cy="194.6" r="0.9"/><circle cx="231.8" cy="193.2" r="0.9"/><circle cx="233.2" cy="195.3" r="0.9"/><circle cx="234.6" cy="193.9" r="0.9"/><circle cx="235.3" cy="196.7" r="0.9"/><circle cx="236.7" cy="196.0" r="0.9"/><circle cx="238.1" cy="197.4" r="0.9"/><circle cx="233.9" cy="198.1" r="0.9"/><circle cx="231.1" cy="196.7" r="0.9"/><circle cx="229.1" cy="197.4" r="0.9"/><circle cx="239.4" cy="195.3" r="0.9"/><circle cx="238.8" cy="198.8" r="0.9"/><circle cx="216.6" cy="193.9" r="0.9"/><circle cx="220.1" cy="194.6" r="0.9"/><circle cx="213.8" cy="187.0" r="0.9"/><circle cx="241.7" cy="186.6" r="0.9"/><circle cx="245.8" cy="192.9" r="0.9"/><circle cx="251.3" cy="192.9" r="0.9"/><circle cx="254.1" cy="192.9" r="0.9"/><circle cx="240.7" cy="196.7" r="0.9"/><circle cx="242.8" cy="197.4" r="0.9"/><circle cx="244.8" cy="198.1" r="0.9"/><circle cx="247.6" cy="197.1" r="0.9"/><circle cx="244.2" cy="199.4" r="0.9"/><circle cx="253.1" cy="199.4" r="0.9"/><circle cx="276.3" cy="196.3" r="0.9"/><circle cx="273.9" cy="199.4" r="0.9"/><circle cx="275.3" cy="199.4" r="0.9"/><circle cx="240.7" cy="200.7" r="0.9"/><circle cx="242.1" cy="202.8" r="0.9"/><circle cx="244.2" cy="201.4" r="0.9"/><circle cx="246.2" cy="203.5" r="0.9"/><circle cx="247.6" cy="200.7" r="0.9"/><circle cx="249.7" cy="201.4" r="0.9"/><circle cx="250.4" cy="204.2" r="0.9"/><circle cx="248.3" cy="205.5" r="0.9"/><circle cx="251.1" cy="206.2" r="0.9"/><circle cx="252.5" cy="203.5" r="0.9"/><circle cx="253.8" cy="205.5" r="0.9"/><circle cx="253.1" cy="208.3" r="0.9"/><circle cx="255.2" cy="206.9" r="0.9"/><circle cx="256.6" cy="202.1" r="0.9"/><circle cx="258.0" cy="204.2" r="0.9"/><circle cx="259.4" cy="206.2" r="0.9"/><circle cx="257.3" cy="209.0" r="0.9"/><circle cx="254.5" cy="213.8" r="0.9"/><circle cx="253.8" cy="215.2" r="0.9"/><circle cx="258.7" cy="211.1" r="0.9"/><circle cx="260.8" cy="209.7" r="0.9"/><circle cx="262.1" cy="207.6" r="0.9"/><circle cx="263.5" cy="205.5" r="0.9"/><circle cx="264.9" cy="204.2" r="0.9"/><circle cx="265.6" cy="206.9" r="0.9"/><circle cx="267.7" cy="205.5" r="0.9"/><circle cx="269.8" cy="202.1" r="0.9"/><circle cx="271.8" cy="203.5" r="0.9"/><circle cx="274.6" cy="204.2" r="0.9"/><circle cx="276.7" cy="206.2" r="0.9"/><circle cx="278.1" cy="202.8" r="0.9"/><circle cx="273.2" cy="207.6" r="0.9"/><circle cx="275.3" cy="209.0" r="0.9"/><circle cx="277.4" cy="210.4" r="0.9"/><circle cx="278.8" cy="212.5" r="0.9"/><circle cx="262.1" cy="212.5" r="0.9"/><circle cx="264.2" cy="211.8" r="0.9"/><circle cx="266.3" cy="213.8" r="0.9"/><circle cx="267.7" cy="212.5" r="0.9"/><circle cx="269.1" cy="215.2" r="0.9"/><circle cx="270.4" cy="213.8" r="0.9"/><circle cx="271.8" cy="215.9" r="0.9"/><circle cx="269.1" cy="218.0" r="0.9"/><circle cx="271.1" cy="219.4" r="0.9"/><circle cx="273.2" cy="218.0" r="0.9"/><circle cx="274.6" cy="216.6" r="0.9"/><circle cx="276.0" cy="215.2" r="0.9"/><circle cx="277.4" cy="218.0" r="0.9"/><circle cx="275.3" cy="220.8" r="0.9"/><circle cx="276.7" cy="222.1" r="0.9"/><circle cx="269.8" cy="220.1" r="0.9"/><circle cx="267.0" cy="215.9" r="0.9"/><circle cx="261.5" cy="215.2" r="0.9"/><circle cx="264.9" cy="216.6" r="0.9"/><circle cx="269.1" cy="226.3" r="0.9"/><circle cx="271.6" cy="233.2" r="0.9"/><circle cx="278.1" cy="233.2" r="0.9"/><circle cx="243.5" cy="204.8" r="0.9"/><circle cx="245.5" cy="206.2" r="0.9"/><circle cx="246.9" cy="208.3" r="0.9"/><circle cx="249.0" cy="210.4" r="0.9"/><circle cx="289.7" cy="201.1" r="0.9"/><circle cx="284.2" cy="206.2" r="0.9"/><circle cx="292.5" cy="205.5" r="0.9"/><circle cx="296.3" cy="206.2" r="0.9"/><circle cx="302.1" cy="210.4" r="0.9"/><circle cx="296.6" cy="211.1" r="0.9"/><circle cx="280.7" cy="211.1" r="0.9"/><circle cx="286.2" cy="213.1" r="0.9"/><circle cx="295.2" cy="213.8" r="0.9"/><circle cx="307.0" cy="214.5" r="0.9"/><circle cx="308.4" cy="213.8" r="0.9"/><circle cx="280.7" cy="215.2" r="0.9"/><circle cx="282.8" cy="216.6" r="0.9"/><circle cx="284.8" cy="217.3" r="0.9"/><circle cx="286.9" cy="218.7" r="0.9"/><circle cx="289.7" cy="217.3" r="0.9"/><circle cx="291.1" cy="218.0" r="0.9"/><circle cx="281.4" cy="219.4" r="0.9"/><circle cx="283.5" cy="220.8" r="0.9"/><circle cx="285.5" cy="221.5" r="0.9"/><circle cx="287.6" cy="220.8" r="0.9"/><circle cx="289.0" cy="222.8" r="0.9"/><circle cx="291.1" cy="222.1" r="0.9"/><circle cx="293.1" cy="221.5" r="0.9"/><circle cx="296.6" cy="220.8" r="0.9"/><circle cx="298.0" cy="222.8" r="0.9"/><circle cx="295.2" cy="224.2" r="0.9"/><circle cx="293.1" cy="226.3" r="0.9"/><circle cx="291.1" cy="227.7" r="0.9"/><circle cx="288.3" cy="225.6" r="0.9"/><circle cx="286.2" cy="224.9" r="0.9"/><circle cx="282.8" cy="224.2" r="0.9"/><circle cx="284.8" cy="226.3" r="0.9"/><circle cx="300.8" cy="223.5" r="0.9"/><circle cx="302.8" cy="224.9" r="0.9"/><circle cx="304.2" cy="222.8" r="0.9"/><circle cx="306.3" cy="222.1" r="0.9"/><circle cx="307.7" cy="223.5" r="0.9"/><circle cx="309.8" cy="221.5" r="0.9"/><circle cx="313.2" cy="218.0" r="0.9"/><circle cx="312.5" cy="220.8" r="0.9"/><circle cx="314.6" cy="222.8" r="0.9"/><circle cx="316.7" cy="220.8" r="0.9"/><circle cx="318.8" cy="223.5" r="0.9"/><circle cx="307.0" cy="218.0" r="0.9"/><circle cx="302.1" cy="227.7" r="0.9"/><circle cx="304.2" cy="227.7" r="0.9"/><circle cx="306.3" cy="227.0" r="0.9"/><circle cx="307.7" cy="229.1" r="0.9"/><circle cx="309.1" cy="226.3" r="0.9"/><circle cx="311.1" cy="228.4" r="0.9"/><circle cx="313.2" cy="229.8" r="0.9"/><circle cx="315.3" cy="227.7" r="0.9"/><circle cx="317.4" cy="229.8" r="0.9"/><circle cx="319.4" cy="227.7" r="0.9"/><circle cx="299.4" cy="227.7" r="0.9"/><circle cx="297.3" cy="229.8" r="0.9"/><circle cx="300.8" cy="231.1" r="0.9"/><circle cx="303.5" cy="229.8" r="0.9"/><circle cx="309.8" cy="231.8" r="0.9"/><circle cx="311.8" cy="233.2" r="0.9"/><circle cx="314.6" cy="232.5" r="0.9"/><circle cx="316.7" cy="234.6" r="0.9"/><circle cx="318.8" cy="233.2" r="0.9"/><circle cx="313.2" cy="236.0" r="0.9"/><circle cx="315.3" cy="237.4" r="0.9"/><circle cx="317.4" cy="238.1" r="0.9"/><circle cx="319.4" cy="236.7" r="0.9"/><circle cx="292.5" cy="231.8" r="0.9"/><circle cx="291.8" cy="236.0" r="0.9"/><circle cx="293.1" cy="236.7" r="0.9"/><circle cx="282.8" cy="227.0" r="0.9"/><circle cx="320.6" cy="230.3" r="0.9"/><circle cx="322.4" cy="232.1" r="0.9"/><circle cx="325.2" cy="229.4" r="0.9"/><circle cx="327.0" cy="227.5" r="0.9"/><circle cx="329.8" cy="230.3" r="0.9"/><circle cx="332.5" cy="229.4" r="0.9"/><circle cx="334.4" cy="228.4" r="0.9"/><circle cx="332.2" cy="222.0" r="0.9"/><circle cx="336.2" cy="224.8" r="0.9"/><circle cx="321.5" cy="234.9" r="0.9"/><circle cx="323.3" cy="236.7" r="0.9"/><circle cx="325.2" cy="233.9" r="0.9"/><circle cx="327.9" cy="233.0" r="0.9"/><circle cx="328.9" cy="235.8" r="0.9"/><circle cx="331.6" cy="233.9" r="0.9"/><circle cx="333.4" cy="232.1" r="0.9"/><circle cx="320.6" cy="237.6" r="0.9"/><circle cx="324.3" cy="237.6" r="0.9"/><circle cx="322.4" cy="243.1" r="0.9"/><circle cx="320.6" cy="244.0" r="0.9"/><circle cx="327.0" cy="246.8" r="0.9"/><circle cx="330.7" cy="240.4" r="0.9"/><circle cx="332.5" cy="241.3" r="0.9"/><circle cx="171.8" cy="112.8" r="0.9"/><circle cx="232.8" cy="154.9" r="0.9"/><circle cx="158.1" cy="160.5" r="0.9"/><circle cx="159.4" cy="161.2" r="0.9"/><circle cx="203.9" cy="205.4" r="0.9"/><circle cx="232.9" cy="217.1" r="0.9"/><circle cx="236.7" cy="201.2" r="0.9"/><circle cx="238.8" cy="200.5" r="0.9"/><circle cx="235.3" cy="201.2" r="0.9"/><circle cx="176.8" cy="12.8" r="0.9"/><circle cx="192.9" cy="13.3" r="0.9"/><circle cx="173.4" cy="26.6" r="0.9"/><circle cx="171.1" cy="30.1" r="0.9"/><circle cx="163.5" cy="29.2" r="0.9"/><circle cx="185.5" cy="28.4" r="0.9"/><circle cx="163.0" cy="37.9" r="0.9"/><circle cx="171.6" cy="40.5" r="0.9"/><circle cx="274.5" cy="137.5" r="0.9"/><circle cx="128.8" cy="82.0" r="0.9"/><circle cx="203.5" cy="39.4" r="0.9"/><circle cx="101.2" cy="84.3" r="0.9"/><circle cx="99.6" cy="84.6" r="0.9"/><circle cx="105.2" cy="80.7" r="0.9"/><circle cx="106.8" cy="86.1" r="0.9"/><circle cx="108.7" cy="84.9" r="0.9"/><circle cx="111.7" cy="80.5" r="0.9"/><circle cx="94.2" cy="86.2" r="0.9"/><circle cx="97.7" cy="90.9" r="0.9"/><circle cx="99.7" cy="88.7" r="0.9"/><circle cx="108.6" cy="93.0" r="0.9"/><circle cx="108.2" cy="98.5" r="0.9"/><circle cx="104.2" cy="97.5" r="0.9"/><circle cx="103.5" cy="100.2" r="0.9"/><circle cx="115.3" cy="97.3" r="0.9"/><circle cx="91.7" cy="100.7" r="0.9"/><circle cx="96.6" cy="98.6" r="0.9"/><circle cx="101.9" cy="99.2" r="0.9"/><circle cx="105.0" cy="104.0" r="0.9"/><circle cx="110.0" cy="100.2" r="0.9"/><circle cx="110.2" cy="101.8" r="0.9"/><circle cx="110.4" cy="111.7" r="0.9"/><circle cx="112.5" cy="111.3" r="0.9"/><circle cx="118.1" cy="110.6" r="0.9"/><circle cx="117.4" cy="109.7" r="0.9"/><circle cx="115.1" cy="114.4" r="0.9"/><circle cx="117.7" cy="119.4" r="0.9"/><circle cx="88.7" cy="94.7" r="0.9"/><circle cx="92.1" cy="99.5" r="0.9"/><circle cx="130.4" cy="81.7" r="0.9"/><circle cx="133.0" cy="92.5" r="0.9"/><circle cx="128.5" cy="101.1" r="0.9"/><circle cx="120.2" cy="106.0" r="0.9"/><circle cx="127.0" cy="106.7" r="0.9"/><circle cx="125.3" cy="108.0" r="0.9"/><circle cx="131.4" cy="107.9" r="0.9"/><circle cx="126.1" cy="109.5" r="0.9"/><circle cx="124.8" cy="112.3" r="0.9"/><circle cx="126.0" cy="113.9" r="0.9"/><circle cx="146.4" cy="110.8" r="0.9"/><circle cx="143.7" cy="114.3" r="0.9"/><circle cx="140.5" cy="115.8" r="0.9"/><circle cx="128.7" cy="114.5" r="0.9"/><circle cx="116.2" cy="121.3" r="0.9"/><circle cx="118.0" cy="128.6" r="0.9"/><circle cx="124.3" cy="125.4" r="0.9"/><circle cx="128.0" cy="124.3" r="0.9"/><circle cx="126.5" cy="123.9" r="0.9"/><circle cx="128.4" cy="126.8" r="0.9"/><circle cx="126.4" cy="130.6" r="0.9"/><circle cx="128.8" cy="130.7" r="0.9"/><circle cx="127.0" cy="129.9" r="0.9"/><circle cx="124.7" cy="130.0" r="0.9"/><circle cx="130.7" cy="135.9" r="0.9"/><circle cx="132.9" cy="129.9" r="0.9"/><circle cx="130.6" cy="132.9" r="0.9"/><circle cx="133.0" cy="136.4" r="0.9"/><circle cx="127.9" cy="134.8" r="0.9"/><circle cx="130.4" cy="138.5" r="0.9"/><circle cx="135.7" cy="137.7" r="0.9"/><circle cx="134.8" cy="139.0" r="0.9"/><circle cx="136.6" cy="143.2" r="0.9"/><circle cx="137.1" cy="140.2" r="0.9"/><circle cx="141.3" cy="140.1" r="0.9"/><circle cx="139.1" cy="140.5" r="0.9"/><circle cx="142.8" cy="142.1" r="0.9"/><circle cx="142.8" cy="147.3" r="0.9"/><circle cx="145.8" cy="145.5" r="0.9"/><circle cx="144.7" cy="147.4" r="0.9"/><circle cx="140.5" cy="148.9" r="0.9"/><circle cx="148.2" cy="150.8" r="0.9"/><circle cx="147.2" cy="150.3" r="0.9"/><circle cx="152.7" cy="154.3" r="0.9"/><circle cx="155.2" cy="157.8" r="0.9"/><circle cx="146.2" cy="145.9" r="0.9"/><circle cx="133.5" cy="125.1" r="0.9"/><circle cx="133.9" cy="123.3" r="0.9"/><circle cx="141.0" cy="124.4" r="0.9"/><circle cx="145.4" cy="122.6" r="0.9"/><circle cx="146.9" cy="123.1" r="0.9"/><circle cx="150.1" cy="125.4" r="0.9"/><circle cx="148.3" cy="125.5" r="0.9"/><circle cx="152.2" cy="124.5" r="0.9"/><circle cx="156.0" cy="125.8" r="0.9"/><circle cx="158.6" cy="125.7" r="0.9"/><circle cx="140.3" cy="128.8" r="0.9"/><circle cx="144.2" cy="130.1" r="0.9"/><circle cx="148.6" cy="132.1" r="0.9"/><circle cx="155.6" cy="132.0" r="0.9"/><circle cx="144.0" cy="133.9" r="0.9"/><circle cx="147.0" cy="137.3" r="0.9"/><circle cx="153.5" cy="136.2" r="0.9"/><circle cx="157.2" cy="142.2" r="0.9"/><circle cx="150.2" cy="141.9" r="0.9"/><circle cx="152.4" cy="142.6" r="0.9"/><circle cx="154.2" cy="141.8" r="0.9"/><circle cx="156.7" cy="142.5" r="0.9"/><circle cx="154.5" cy="147.2" r="0.9"/><circle cx="159.5" cy="148.6" r="0.9"/><circle cx="150.2" cy="144.7" r="0.9"/><circle cx="151.7" cy="143.7" r="0.9"/><circle cx="148.3" cy="142.4" r="0.9"/><circle cx="175.5" cy="132.1" r="0.9"/><circle cx="162.5" cy="138.3" r="0.9"/><circle cx="163.3" cy="142.8" r="0.9"/><circle cx="163.1" cy="142.3" r="0.9"/><circle cx="173.9" cy="146.0" r="0.9"/><circle cx="175.3" cy="147.5" r="0.9"/><circle cx="184.1" cy="147.3" r="0.9"/><circle cx="165.9" cy="148.1" r="0.9"/><circle cx="170.3" cy="149.1" r="0.9"/><circle cx="171.6" cy="149.7" r="0.9"/><circle cx="164.1" cy="151.0" r="0.9"/><circle cx="166.5" cy="152.6" r="0.9"/><circle cx="167.8" cy="153.5" r="0.9"/><circle cx="165.2" cy="160.7" r="0.9"/><circle cx="163.2" cy="156.9" r="0.9"/><circle cx="162.8" cy="155.7" r="0.9"/><circle cx="179.2" cy="157.1" r="0.9"/><circle cx="162.1" cy="163.6" r="0.9"/><circle cx="166.1" cy="165.0" r="0.9"/><circle cx="172.0" cy="166.3" r="0.9"/><circle cx="173.1" cy="168.7" r="0.9"/><circle cx="174.3" cy="173.2" r="0.9"/><circle cx="175.7" cy="165.5" r="0.9"/><circle cx="175.5" cy="172.8" r="0.9"/><circle cx="183.4" cy="173.9" r="0.9"/><circle cx="184.7" cy="173.8" r="0.9"/><circle cx="185.4" cy="178.5" r="0.9"/><circle cx="188.3" cy="178.5" r="0.9"/><circle cx="193.2" cy="179.9" r="0.9"/><circle cx="195.5" cy="179.0" r="0.9"/><circle cx="191.6" cy="181.4" r="0.9"/><circle cx="195.9" cy="183.0" r="0.9"/><circle cx="198.1" cy="181.8" r="0.9"/><circle cx="179.3" cy="173.1" r="0.9"/><circle cx="176.4" cy="159.8" r="0.9"/><circle cx="178.8" cy="162.1" r="0.9"/><circle cx="179.1" cy="162.1" r="0.9"/><circle cx="179.8" cy="166.4" r="0.9"/><circle cx="183.5" cy="161.0" r="0.9"/><circle cx="187.4" cy="161.2" r="0.9"/><circle cx="185.4" cy="166.5" r="0.9"/><circle cx="190.9" cy="166.0" r="0.9"/><circle cx="196.6" cy="166.3" r="0.9"/><circle cx="197.6" cy="168.6" r="0.9"/><circle cx="194.5" cy="172.4" r="0.9"/><circle cx="195.8" cy="173.1" r="0.9"/><circle cx="201.9" cy="168.0" r="0.9"/><circle cx="217.4" cy="174.7" r="0.9"/><circle cx="216.8" cy="171.3" r="0.9"/><circle cx="202.5" cy="173.1" r="0.9"/><circle cx="200.1" cy="177.1" r="0.9"/><circle cx="235.7" cy="180.0" r="0.9"/><circle cx="231.0" cy="179.6" r="0.9"/><circle cx="225.8" cy="179.7" r="0.9"/><circle cx="217.8" cy="182.8" r="0.9"/><circle cx="225.3" cy="185.4" r="0.9"/><circle cx="226.9" cy="186.3" r="0.9"/><circle cx="213.2" cy="185.7" r="0.9"/><circle cx="208.1" cy="182.5" r="0.9"/><circle cx="211.0" cy="181.3" r="0.9"/><circle cx="200.6" cy="181.7" r="0.9"/><circle cx="199.0" cy="181.1" r="0.9"/><circle cx="204.8" cy="185.3" r="0.9"/><circle cx="206.9" cy="185.6" r="0.9"/><circle cx="210.5" cy="185.9" r="0.9"/><circle cx="213.0" cy="188.9" r="0.9"/><circle cx="221.8" cy="189.6" r="0.9"/><circle cx="227.2" cy="188.9" r="0.9"/><circle cx="224.2" cy="193.9" r="0.9"/><circle cx="230.5" cy="196.0" r="0.9"/><circle cx="232.1" cy="195.0" r="0.9"/><circle cx="232.8" cy="196.7" r="0.9"/><circle cx="238.2" cy="198.3" r="0.9"/><circle cx="230.6" cy="197.6" r="0.9"/><circle cx="238.7" cy="200.7" r="0.9"/><circle cx="221.2" cy="194.9" r="0.9"/><circle cx="213.5" cy="186.2" r="0.9"/><circle cx="255.2" cy="192.7" r="0.9"/><circle cx="243.2" cy="199.5" r="0.9"/><circle cx="246.3" cy="197.6" r="0.9"/><circle cx="247.8" cy="198.4" r="0.9"/><circle cx="275.6" cy="196.8" r="0.9"/><circle cx="275.7" cy="199.6" r="0.9"/><circle cx="242.9" cy="199.1" r="0.9"/><circle cx="248.8" cy="203.5" r="0.9"/><circle cx="249.7" cy="203.1" r="0.9"/><circle cx="247.9" cy="206.2" r="0.9"/><circle cx="250.8" cy="207.4" r="0.9"/><circle cx="254.7" cy="205.3" r="0.9"/><circle cx="254.2" cy="206.1" r="0.9"/><circle cx="256.6" cy="207.4" r="0.9"/><circle cx="257.4" cy="201.7" r="0.9"/><circle cx="258.3" cy="204.0" r="0.9"/><circle cx="260.2" cy="204.2" r="0.9"/><circle cx="257.8" cy="209.1" r="0.9"/><circle cx="253.8" cy="212.4" r="0.9"/><circle cx="258.2" cy="214.3" r="0.9"/><circle cx="261.9" cy="206.5" r="0.9"/><circle cx="265.7" cy="205.6" r="0.9"/><circle cx="269.9" cy="203.5" r="0.9"/><circle cx="276.7" cy="207.6" r="0.9"/><circle cx="278.8" cy="202.4" r="0.9"/><circle cx="263.7" cy="212.9" r="0.9"/><circle cx="268.4" cy="214.5" r="0.9"/><circle cx="269.4" cy="215.4" r="0.9"/><circle cx="274.5" cy="215.6" r="0.9"/><circle cx="271.6" cy="219.7" r="0.9"/><circle cx="272.9" cy="216.6" r="0.9"/><circle cx="273.0" cy="217.5" r="0.9"/><circle cx="270.3" cy="219.2" r="0.9"/><circle cx="261.4" cy="214.4" r="0.9"/><circle cx="264.9" cy="217.4" r="0.9"/><circle cx="274.8" cy="235.7" r="0.9"/><circle cx="246.2" cy="204.5" r="0.9"/><circle cx="246.6" cy="210.8" r="0.9"/><circle cx="292.3" cy="206.2" r="0.9"/><circle cx="298.0" cy="205.9" r="0.9"/><circle cx="297.6" cy="210.0" r="0.9"/><circle cx="281.2" cy="208.0" r="0.9"/><circle cx="284.7" cy="212.1" r="0.9"/><circle cx="294.7" cy="214.4" r="0.9"/><circle cx="306.9" cy="216.3" r="0.9"/><circle cx="281.8" cy="215.3" r="0.9"/><circle cx="284.5" cy="218.1" r="0.9"/><circle cx="292.1" cy="218.8" r="0.9"/><circle cx="286.6" cy="223.2" r="0.9"/><circle cx="287.4" cy="221.9" r="0.9"/><circle cx="290.0" cy="221.6" r="0.9"/><circle cx="296.0" cy="218.2" r="0.9"/><circle cx="297.3" cy="222.7" r="0.9"/><circle cx="300.8" cy="222.9" r="0.9"/><circle cx="295.8" cy="223.0" r="0.9"/><circle cx="291.2" cy="227.9" r="0.9"/><circle cx="283.9" cy="225.4" r="0.9"/><circle cx="302.5" cy="226.5" r="0.9"/><circle cx="304.0" cy="222.3" r="0.9"/><circle cx="311.9" cy="223.7" r="0.9"/><circle cx="315.3" cy="221.7" r="0.9"/><circle cx="316.1" cy="221.8" r="0.9"/><circle cx="319.0" cy="222.6" r="0.9"/><circle cx="308.4" cy="216.0" r="0.9"/><circle cx="302.4" cy="229.0" r="0.9"/><circle cx="307.0" cy="227.7" r="0.9"/><circle cx="309.1" cy="227.5" r="0.9"/><circle cx="313.6" cy="229.2" r="0.9"/><circle cx="297.9" cy="228.5" r="0.9"/><circle cx="296.5" cy="228.6" r="0.9"/><circle cx="302.5" cy="231.4" r="0.9"/><circle cx="303.7" cy="232.0" r="0.9"/><circle cx="312.5" cy="234.5" r="0.9"/><circle cx="315.6" cy="233.5" r="0.9"/><circle cx="315.2" cy="235.2" r="0.9"/><circle cx="318.4" cy="232.8" r="0.9"/><circle cx="318.2" cy="236.6" r="0.9"/><circle cx="294.5" cy="232.6" r="0.9"/><circle cx="322.1" cy="230.1" r="0.9"/><circle cx="327.7" cy="224.6" r="0.9"/><circle cx="328.5" cy="232.0" r="0.9"/><circle cx="333.4" cy="228.7" r="0.9"/><circle cx="329.2" cy="222.0" r="0.9"/><circle cx="336.1" cy="226.3" r="0.9"/><circle cx="322.3" cy="235.1" r="0.9"/><circle cx="325.2" cy="235.9" r="0.9"/><circle cx="328.1" cy="232.4" r="0.9"/><circle cx="334.6" cy="230.9" r="0.9"/><circle cx="324.3" cy="243.0" r="0.9"/><circle cx="320.9" cy="243.1" r="0.9"/><circle cx="332.7" cy="239.9" r="0.9"/><circle cx="171.8" cy="112.4" r="0.9"/><circle cx="155.7" cy="157.6" r="0.9"/><circle cx="233.2" cy="217.1" r="0.9"/><circle cx="235.7" cy="200.3" r="0.9"/><circle cx="177.1" cy="14.7" r="0.9"/><circle cx="194.1" cy="13.3" r="0.9"/><circle cx="172.8" cy="27.3" r="0.9"/><circle cx="184.4" cy="27.4" r="0.9"/><circle cx="163.9" cy="37.5" r="0.9"/><circle cx="173.1" cy="41.5" r="0.9"/><circle cx="203.5" cy="39.6" r="0.9"/></g><g fill="none" stroke="#ff7f0e" stroke-width="1.05" opacity="0.85"><circle cx="49.5" cy="34.6" r="2.1"/><circle cx="57.3" cy="50.4" r="2.1"/><circle cx="70.9" cy="40.3" r="2.1"/><circle cx="71.8" cy="44.8" r="2.1"/><circle cx="75.0" cy="45.8" r="2.1"/><circle cx="72.3" cy="52.6" r="2.1"/><circle cx="68.9" cy="54.1" r="2.1"/><circle cx="68.5" cy="60.4" r="2.1"/><circle cx="64.8" cy="62.9" r="2.1"/><circle cx="68.0" cy="64.4" r="2.1"/><circle cx="84.9" cy="51.6" r="2.1"/><circle cx="85.4" cy="55.9" r="2.1"/><circle cx="91.0" cy="56.5" r="2.1"/><circle cx="103.3" cy="62.1" r="2.1"/><circle cx="88.2" cy="64.7" r="2.1"/><circle cx="100.7" cy="67.1" r="2.1"/><circle cx="99.8" cy="70.4" r="2.1"/><circle cx="108.9" cy="70.1" r="2.1"/><circle cx="71.1" cy="67.8" r="2.1"/><circle cx="75.3" cy="66.7" r="2.1"/><circle cx="77.5" cy="68.8" r="2.1"/><circle cx="66.5" cy="70.0" r="2.1"/><circle cx="74.0" cy="70.1" r="2.1"/><circle cx="68.6" cy="72.7" r="2.1"/><circle cx="71.4" cy="72.6" r="2.1"/><circle cx="75.4" cy="72.7" r="2.1"/><circle cx="81.6" cy="75.2" r="2.1"/><circle cx="71.8" cy="75.9" r="2.1"/><circle cx="76.5" cy="76.6" r="2.1"/><circle cx="60.4" cy="76.7" r="2.1"/><circle cx="63.5" cy="77.4" r="2.1"/><circle cx="73.8" cy="79.0" r="2.1"/><circle cx="86.8" cy="70.1" r="2.1"/><circle cx="90.5" cy="74.1" r="2.1"/><circle cx="101.6" cy="75.8" r="2.1"/><circle cx="92.9" cy="80.8" r="2.1"/><circle cx="122.4" cy="82.9" r="2.1"/><circle cx="68.4" cy="80.3" r="2.1"/><circle cx="77.2" cy="82.4" r="2.1"/><circle cx="80.3" cy="82.9" r="2.1"/><circle cx="70.5" cy="86.5" r="2.1"/><circle cx="75.4" cy="87.1" r="2.1"/><circle cx="85.2" cy="75.6" r="2.1"/><circle cx="84.4" cy="81.1" r="2.1"/><circle cx="88.0" cy="87.4" r="2.1"/><circle cx="92.5" cy="89.4" r="2.1"/><circle cx="99.8" cy="96.7" r="2.1"/><circle cx="65.0" cy="74.2" r="2.1"/><circle cx="80.8" cy="86.7" r="2.1"/><circle cx="86.4" cy="90.6" r="2.1"/><circle cx="88.7" cy="63.3" r="2.1"/></g></g><g fill="#aaa"><rect x="40" y="4" width="1" height="249"/><rect x="40" y="252" width="297" height="1"/></g><g fill="#bbb"><rect x="40" y="4" width="297" height="1"/><rect x="336" y="4" width="1" height="249"/></g><g fill="#505050"><rect x="37.4" y="4" width="3.1" height="1"/><rect x="37.4" y="46" width="3.1" height="1"/><rect x="37.4" y="87" width="3.1" height="1"/><rect x="37.4" y="128" width="3.1" height="1"/><rect x="37.4" y="170" width="3.1" height="1"/><rect x="37.4" y="211" width="3.1" height="1"/><rect x="37.4" y="252" width="3.1" height="1"/><rect x="62" y="252.5" width="1" height="2.6"/><rect x="117" y="252.5" width="1" height="2.6"/><rect x="172" y="252.5" width="1" height="2.6"/><rect x="227" y="252.5" width="1" height="2.6"/><rect x="281" y="252.5" width="1" height="2.6"/><rect x="336" y="252.5" width="1" height="2.6"/></g><g font-family="Liberation Serif, serif" font-size="14.5" fill="#1a1a1a"><text x="35.4" y="10.2" text-anchor="end">2</text><rect x="17.9" y="6.00" width="9.1" height="0.9"/><text x="35.4" y="51.5" text-anchor="end">0</text><text x="35.4" y="92.9" text-anchor="end">2</text><text x="35.4" y="134.2" text-anchor="end">4</text><text x="35.4" y="175.5" text-anchor="end">6</text><text x="35.4" y="216.9" text-anchor="end">8</text><text x="35.4" y="258.2" text-anchor="end">10</text><text x="62.5" y="268.9" text-anchor="middle">0.0</text><text x="117.4" y="268.9" text-anchor="middle">0.5</text><text x="172.3" y="268.9" text-anchor="middle">1.0</text><text x="227.3" y="268.9" text-anchor="middle">1.5</text><text x="282.2" y="268.9" text-anchor="middle">2.0</text><text x="337.1" y="268.9" text-anchor="middle">2.5</text></g><g font-family="Liberation Serif, serif" fill="#1a1a1a"><text x="143.7" y="284.9" font-size="14.5">(</text><text x="148.3" y="285.2" font-size="14.5" font-style="italic" textLength="11.2" lengthAdjust="spacingAndGlyphs">G</text><text x="159.8" y="287.5" font-size="10.4" font-style="italic" textLength="16.2" lengthAdjust="spacingAndGlyphs">BP</text><rect x="182" y="281.1" width="8.8" height="0.9"/><text x="195.2" y="285.2" font-size="14.5" font-style="italic" textLength="11.2" lengthAdjust="spacingAndGlyphs">G</text><text x="206.6" y="287.5" font-size="10.4" font-style="italic" textLength="17.2" lengthAdjust="spacingAndGlyphs">RP</text><text x="224.5" y="284.9" font-size="14.5">)</text><text x="228.2" y="287.0" font-size="10.2">0</text></g><g font-family="Liberation Serif, serif" fill="#1a1a1a" font-style="italic"><text transform="translate(10.0,139.3) rotate(-90)" font-size="15" textLength="13.6" lengthAdjust="spacingAndGlyphs">M</text><text transform="translate(12.2,125.2) rotate(-90)" font-size="10.5" textLength="8.2" lengthAdjust="spacingAndGlyphs">G</text></g><rect x="46.5" y="164" width="98" height="82.5" rx="2" fill="#fff" fill-opacity="0.8" stroke="#d5d5d5" stroke-width="1"/><circle cx="61.9" cy="172.5" r="0.9" fill="#1f77b4"/><circle cx="61.9" cy="188.2" r="1.8" fill="none" stroke="#ff7f0e" stroke-width="1.1"/><line x1="50.1" y1="204.1" x2="73.9" y2="204.1" stroke="#2ca02c" stroke-width="1.5"/><line x1="50.1" y1="220.1" x2="73.9" y2="220.1" stroke="#d62728" stroke-width="1.5"/><line x1="50.1" y1="236.0" x2="73.9" y2="236.0" stroke="#9467bd" stroke-width="1.5"/><g font-family="Liberation Sans, sans-serif" font-size="10.8" fill="#111"><text x="82.8" y="176.8" textLength="58.8" lengthAdjust="spacingAndGlyphs">All members</text><text x="82.8" y="192.4" textLength="35.0" lengthAdjust="spacingAndGlyphs">Targets</text><text x="82.3" y="208.4" textLength="39.6" lengthAdjust="spacingAndGlyphs">300 Myr</text><text x="82.3" y="224.1" textLength="39.6" lengthAdjust="spacingAndGlyphs">400 Myr</text><text x="82.3" y="239.7" textLength="39.6" lengthAdjust="spacingAndGlyphs">500 Myr</text></g></svg></body></html>
